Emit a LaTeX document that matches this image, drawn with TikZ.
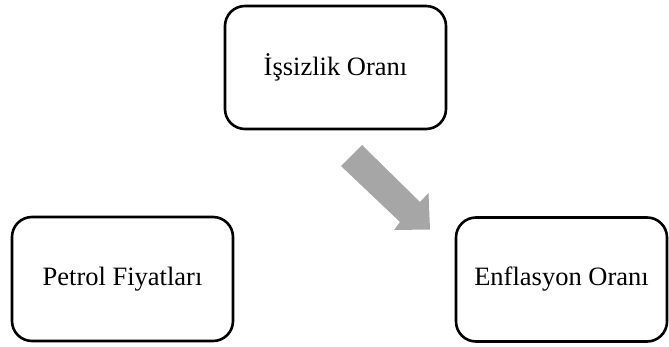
\documentclass[tikz,border=0pt]{standalone}
\usepackage{fontspec}
\setmainfont{Liberation Serif}
\begin{document}
\begin{tikzpicture}[x=1pt,y=-1pt,
  box/.style={draw=black, line width=2.6pt, rounded corners=20pt, fill=white,
    font=\fontsize{26.5}{30}\selectfont, inner sep=0pt}]
\useasboundingbox (0,0) rectangle (669,347);
\node[box, minimum width=221pt, minimum height=123pt] (issizlik) at (335.5,67.5) {İşsizlik Oranı};
\node[box, minimum width=221pt, minimum height=124pt] (petrol) at (122.5,279) {Petrol Fiyatları};
\node[box, minimum width=211pt, minimum height=124pt] (enflasyon) at (561.5,279.5) {Enflasyon Oranı};
\fill[fill={rgb,255:red,166;green,166;blue,166}]
  (341,166) -- (362,145) -- (420,202) -- (428.5,193) -- (430,229.5) -- (394,230) -- (400,222) -- cycle;
\end{tikzpicture}
\end{document}
